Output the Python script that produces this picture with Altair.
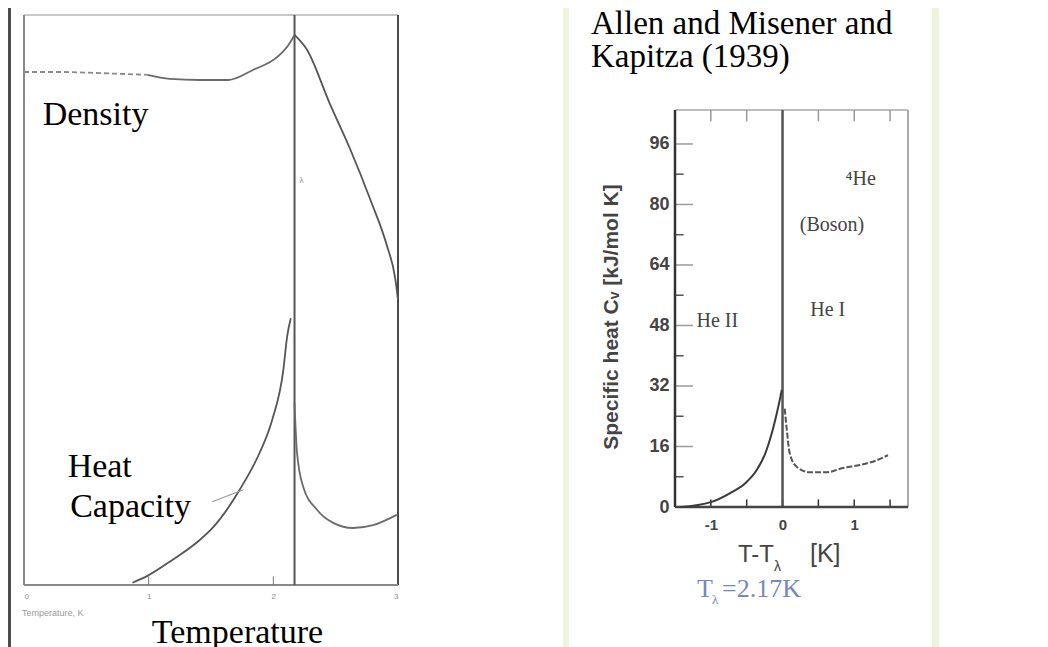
import altair as alt
import pandas as pd

# ---------------- data ----------------
# Left panel: schematic liquid-helium curves vs temperature (K), arbitrary units 0-100
dens_low_T = [0.00, 0.29, 0.61, 0.99]
dens_low_v = [90.0, 90.0, 89.8, 89.5]
dens_mid_T = [0.99, 1.17, 1.41, 1.64, 1.84, 2.03, 2.12, 2.17]
dens_mid_v = [89.5, 88.8, 88.6, 88.6, 90.4, 92.6, 94.7, 96.5]
dens_high_T = [2.17, 2.27, 2.45, 2.61, 2.78, 2.91, 2.98, 3.00]
dens_high_v = [96.5, 93.9, 84.6, 76.8, 67.5, 59.6, 53.5, 50.0]
hc_below_T = [0.87, 0.99, 1.19, 1.41, 1.52, 1.73, 1.89, 1.99, 2.08, 2.11, 2.14]
hc_below_v = [0.4, 1.6, 4.4, 7.9, 10.2, 16.7, 23.2, 28.9, 37.7, 43.5, 46.8]
hc_above_T = [2.17, 2.19, 2.24, 2.35, 2.48, 2.64, 2.80, 2.99]
hc_above_v = [31.9, 23.2, 17.2, 13.2, 10.9, 10.0, 10.5, 12.3]
lambda_T = 2.17
left_ticks = [0, 1, 2, 3]
left_small_ticks = [1, 2]
leader_T = [1.51, 1.76]
leader_v = [14.6, 16.7]

# Right panel: specific heat of 4He (Allen & Misener, Kapitza 1939)
cv_below_dT = [-1.43, -1.00, -0.73, -0.52, -0.36, -0.24, -0.15, -0.08, -0.04, -0.01]
cv_below = [0.0, 1.3, 3.7, 6.3, 9.8, 14.2, 19.5, 24.8, 28.2, 31.0]
cv_above_dT = [0.03, 0.06, 0.10, 0.20, 0.38, 0.62, 0.84, 1.08, 1.32, 1.47]
cv_above = [26.0, 20.3, 14.2, 10.6, 9.2, 9.2, 10.3, 11.1, 12.4, 13.7]
cv_yticks = [0, 16, 32, 48, 64, 80, 96]
cv_yminor = [8, 24, 40, 56, 72, 88]
cv_xticks = [-1, 0, 1]
cv_xminor_bottom = [-1, -0.5, 0, 0.5, 1, 1.5]
cv_xminor_top = [-1, -0.5, 0.5, 1, 1.5]
cv_xdomain = [-1.5, 1.75]
cv_frame_top = 105
cv_labels = ["\u2074He", "(Boson)", "He I", "He II"]
cv_label_x = [1.09, 0.69, 0.63, -0.91]
cv_label_y = [85.2, 73.1, 50.4, 47.5]

one = pd.DataFrame({"k": [0]})
SERIF = "Liberation Serif"
SANS = "Liberation Sans"

# ---------------- helpers ----------------
def line_layer(xs, ys, sx, sy, ax, ay, color, width, dash=None):
    df = pd.DataFrame({"x": xs, "y": ys, "o": list(range(len(xs)))})
    kw = dict(color=color, strokeWidth=width, interpolate="monotone")
    if dash:
        kw["strokeDash"] = dash
    return alt.Chart(df).mark_line(**kw).encode(
        x=alt.X("x:Q", scale=sx, axis=ax),
        y=alt.Y("y:Q", scale=sy, axis=ay),
        order="o:Q",
    )

def seg_layer(x, x2, y, y2, sx, sy, ax, ay, color, width):
    df = pd.DataFrame({"x": x, "x2": x2, "y": y, "y2": y2})
    return alt.Chart(df).mark_rule(color=color, strokeWidth=width).encode(
        x=alt.X("x:Q", scale=sx, axis=ax), x2="x2:Q",
        y=alt.Y("y:Q", scale=sy, axis=ay), y2="y2:Q",
    )

def data_text(txt, x, y, sx, sy, ax, ay, size, color="black", font=SERIF,
              align="left", weight="normal"):
    df = pd.DataFrame({"x": [x], "y": [y], "t": [txt]})
    return alt.Chart(df).mark_text(
        fontSize=size, font=font, color=color, align=align,
        baseline="alphabetic", fontWeight=weight,
    ).encode(
        x=alt.X("x:Q", scale=sx, axis=ax),
        y=alt.Y("y:Q", scale=sy, axis=ay),
        text="t:N",
    )

def px_text(txt, x, y, size, color="black", font=SERIF, align="left",
            baseline="alphabetic", weight="normal", angle=0):
    return alt.Chart(one).mark_text(
        text=txt, fontSize=size, font=font, color=color, align=align,
        baseline=baseline, fontWeight=weight, angle=angle,
    ).encode(x=alt.value(x), y=alt.value(y))

def px_rect(x, x2, y, y2, color):
    return alt.Chart(one).mark_rect(color=color).encode(
        x=alt.value(x), x2=alt.value(x2), y=alt.value(y), y2=alt.value(y2)
    )

# ---------------- left panel ----------------
LW, LH = 374, 570
lxs = alt.Scale(domain=[left_ticks[0], left_ticks[-1]], nice=False, zero=False)
lys = alt.Scale(domain=[0, 100], nice=False, zero=False)
lxa = alt.Axis(values=left_ticks, labelFontSize=8, labelColor="#8a8a8a", labelFont=SANS,
               domain=False, ticks=False, tickSize=0, grid=False, labelPadding=7,
               title="Temperature", titleFont=SERIF, titleFontSize=34,
               titleFontWeight="normal", titleColor="black", titleX=213, titleY=57,
               titleAlign="center", titleBaseline="alphabetic")
lya = None

x0, x1 = left_ticks[0], left_ticks[-1]
left_layers = [
    px_rect(-16, -13, -7, 640, "#4d4d4d"),
    seg_layer([x0], [x1], [100], [100], lxs, lys, lxa, lya, "#c8c8c8", 2),
    seg_layer([x0], [x0], [0], [100], lxs, lys, lxa, lya, "#8a8a8a", 2),
    seg_layer([x1], [x1], [0], [100], lxs, lys, lxa, lya, "#4a4a4a", 2),
    seg_layer([x0], [x1], [0], [0], lxs, lys, lxa, lya, "#8a8a8a", 2),
    seg_layer([lambda_T], [lambda_T], [0], [100], lxs, lys, lxa, lya, "#555555", 2),
    seg_layer(left_small_ticks, left_small_ticks, [0, 0], [1.5, 1.5], lxs, lys, lxa, lya, "#777777", 1),
    line_layer(dens_low_T, dens_low_v, lxs, lys, lxa, lya, "#8a8a8a", 1.8, [5, 3]),
    line_layer(dens_mid_T, dens_mid_v, lxs, lys, lxa, lya, "#6a6a6a", 1.8),
    line_layer(dens_high_T, dens_high_v, lxs, lys, lxa, lya, "#555555", 1.8),
    line_layer(hc_below_T, hc_below_v, lxs, lys, lxa, lya, "#555555", 1.8),
    line_layer(hc_above_T, hc_above_v, lxs, lys, lxa, lya, "#6a6a6a", 1.8),
    line_layer(leader_T, leader_v, lxs, lys, lxa, lya, "#999999", 1.2),
    data_text("Density", 0.15, 80.7, lxs, lys, lxa, lya, 34),
    data_text("Heat", 0.35, 18.9, lxs, lys, lxa, lya, 34),
    data_text("Capacity", 0.37, 11.9, lxs, lys, lxa, lya, 34),
    data_text("\u03bb", 2.21, 70.5, lxs, lys, lxa, lya, 9, color="#888888"),
    px_text("Temperature, K", -2, 601, 9, color="#9a9a9a", font=SANS),
]
left = alt.layer(*left_layers).properties(width=LW, height=LH)

# ---------------- right panel ----------------
RW, RH = 233, 492
rxs = alt.Scale(domain=cv_xdomain, nice=False, zero=False)
rys = alt.Scale(domain=[0, 130.1], nice=False, zero=False)
rxa = alt.Axis(values=cv_xticks, labelExpr="datum.value + ''", labelFont=SANS,
               labelFontSize=15, labelFontWeight="bold", labelColor="#444444",
               labelPadding=10, domain=False, ticks=False, tickSize=0, grid=False, title=None)
rya = alt.Axis(values=cv_yticks, labelFont=SANS, labelFontSize=18, labelFontWeight="bold",
               labelColor="#444444", labelPadding=6, domain=False, ticks=False,
               tickSize=0, grid=False, title=None)

xl, xr = cv_xdomain
T = cv_frame_top
n_maj = len(cv_yticks)
n_min = len(cv_yminor)
right_layers = [
    px_rect(-112, -106, -7, 640, "#edf3dc"),
    px_rect(257, 264, -7, 640, "#edf3dc"),
    seg_layer([xl], [xr], [T], [T], rxs, rys, rxa, rya, "#bdbdbd", 2),
    seg_layer([xr], [xr], [0], [T], rxs, rys, rxa, rya, "#aaaaaa", 2),
    seg_layer([xl] * n_maj, [xl + 0.25] * n_maj, cv_yticks, cv_yticks, rxs, rys, rxa, rya, "#9a9a9a", 1.5),
    seg_layer([xl] * n_min, [xl + 0.12] * n_min, cv_yminor, cv_yminor, rxs, rys, rxa, rya, "#555555", 1.5),
    seg_layer(cv_xminor_top, cv_xminor_top, [T] * len(cv_xminor_top), [T - 3] * len(cv_xminor_top),
              rxs, rys, rxa, rya, "#999999", 1.5),
    seg_layer(cv_xminor_bottom, cv_xminor_bottom, [0] * len(cv_xminor_bottom), [2] * len(cv_xminor_bottom),
              rxs, rys, rxa, rya, "#333333", 1.5),
    seg_layer([0], [0], [0], [T], rxs, rys, rxa, rya, "#555555", 2.5),
    seg_layer([xl], [xl], [0], [T], rxs, rys, rxa, rya, "#333333", 2.5),
    seg_layer([xl], [xr], [0], [0], rxs, rys, rxa, rya, "#444444", 2.5),
    line_layer(cv_below_dT, cv_below, rxs, rys, rxa, rya, "#3a3a3a", 2),
    line_layer(cv_above_dT, cv_above, rxs, rys, rxa, rya, "#555555", 2, [6, 2]),
]
for txt, lx_, ly_ in zip(cv_labels, cv_label_x, cv_label_y):
    right_layers.append(data_text(txt, lx_, ly_, rxs, rys, rxa, rya, 20,
                                  color="#444444", align="center"))
right_layers += [
    px_text("Allen and Misener and", -84, 19, 33),
    px_text("Kapitza (1939)", -84, 52, 33),
    px_text("Specific heat C\u1d65 [kJ/mol K]", -63, 302, 21, color="#444444", font=SANS,
            align="center", baseline="middle", weight="bold", angle=270),
    px_text("T-T", 63, 547, 24, color="#444444", font=SANS),
    px_text("\u03bb", 99, 556, 14, color="#444444", font=SANS),
    px_text("[K]", 135, 547, 25, color="#444444", font=SANS),
    px_text("T", 22, 582, 26, color="#7389bd"),
    px_text("\u03bb", 37, 589, 13, color="#7389bd"),
    px_text("=2.17K", 47, 582, 26, color="#7389bd"),
]
right = alt.layer(*right_layers).properties(width=RW, height=RH)

chart = (
    alt.hconcat(left, right, spacing=277, bounds="flush")
    .properties(padding=0, background="white")
    .configure_view(strokeWidth=0)
)

chart.save("out.html", embed_options={"renderer": "svg", "actions": False})
